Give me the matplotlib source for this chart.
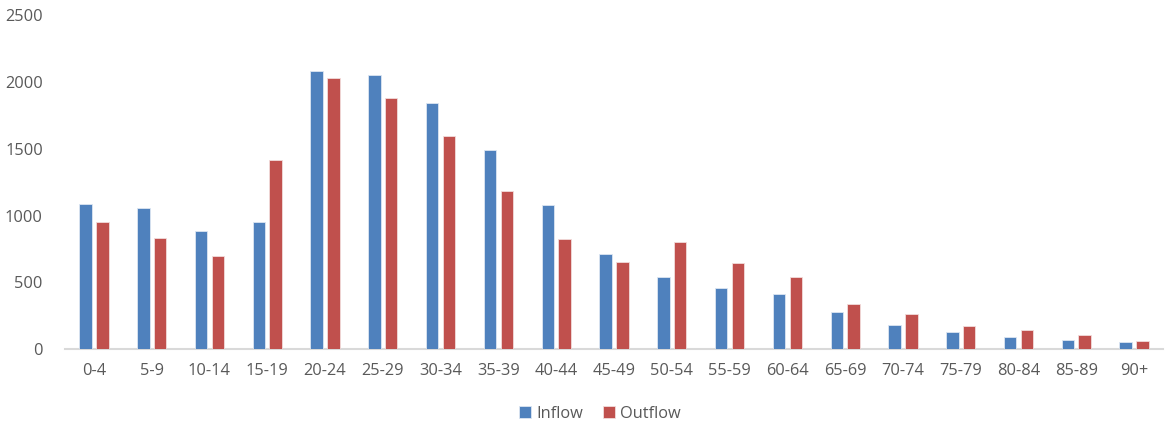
import matplotlib
matplotlib.use("Agg")
import matplotlib.pyplot as plt
import numpy as np

# Age groups and flows
age_groups = ["0-4", "5-9", "10-14", "15-19", "20-24", "25-29", "30-34", "35-39",
              "40-44", "45-49", "50-54", "55-59", "60-64", "65-69", "70-74",
              "75-79", "80-84", "85-89", "90+"]
inflow = [1090, 1055, 884, 951, 2079, 2055, 1845, 1493, 1076, 712, 539, 457,
          410, 275, 177, 125, 90, 65, 50]
outflow = [951, 831, 697, 1413, 2027, 1877, 1592, 1181, 824, 649, 799, 644,
           537, 335, 260, 170, 140, 102, 58]
y_ticks = [0, 500, 1000, 1500, 2000, 2500]

blue = "#4F81BD"
red = "#C0504D"
text_grey = "#595959"

plt.rcParams["font.family"] = ["Open Sans", "DejaVu Sans"]

fig = plt.figure(figsize=(11.70, 4.26), dpi=100)
ax = fig.add_axes([65 / 1170, 1 - 349 / 426, 1098 / 1170, (349 - 15.3) / 426])

x = np.arange(len(age_groups))
w = 0.216
off = 0.145
ax.bar(x - off, inflow, width=w, color=blue, edgecolor="#DCE6F2", linewidth=0.6,
       label="Inflow", zorder=3)
ax.bar(x + off, outflow, width=w, color=red, edgecolor="#F2DCDB", linewidth=0.6,
       label="Outflow", zorder=3)

ax.set_xlim(-0.5, len(age_groups) - 0.5)
ax.set_ylim(0, 2500)
ax.set_yticks(y_ticks)
ax.set_xticks(x)
ax.set_xticklabels(age_groups)

for side in ["top", "right", "left"]:
    ax.spines[side].set_visible(False)
ax.spines["bottom"].set_color("#D9D9D9")
ax.spines["bottom"].set_linewidth(1.5)
ax.tick_params(axis="both", length=0, labelsize=11.8, colors=text_grey)
ax.tick_params(axis="y", pad=16)
ax.tick_params(axis="x", pad=10)

fig.legend(loc="center", bbox_to_anchor=(600 / 1170, 1 - 414 / 426), ncol=2,
           frameon=False, fontsize=11.8, handlelength=0.75, handleheight=0.75,
           handletextpad=0.3, columnspacing=1.2, labelcolor=text_grey)

fig.savefig("out.png", dpi=100, facecolor="white")
